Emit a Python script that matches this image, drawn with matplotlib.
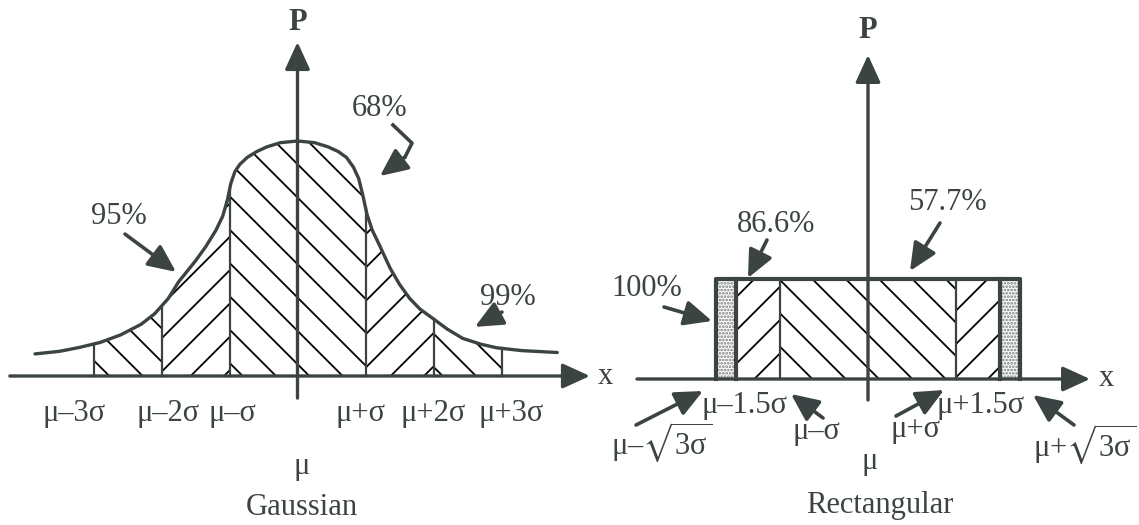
import numpy as np
import matplotlib
matplotlib.use('Agg')
import matplotlib.pyplot as plt

# Couleurs / style general (scan gris fonce)
ENCRE = '#3b4343'
plt.rcParams['font.family'] = ['Liberation Serif', 'DejaVu Serif']
plt.rcParams['mathtext.fontset'] = 'custom'
plt.rcParams['mathtext.rm'] = 'Liberation Serif'
plt.rcParams['mathtext.it'] = 'Liberation Serif'
plt.rcParams['mathtext.fallback'] = 'stix'
plt.rcParams['hatch.linewidth'] = 1.3
TAILLE = 22

# Courbe "gaussienne" (x en sigma, hauteur relative au pic)
gauss_x = np.array([-3.86, -3.5, -3.2, -2.9, -2.6, -2.3, -2.1, -1.9, -1.75, -1.5,
                    -1.35, -1.2, -1.1, -1.03, -0.98, -0.92, -0.85, -0.74, -0.6, -0.45,
                    -0.25, 0.0, 0.25, 0.45, 0.6, 0.72, 0.82, 0.9, 0.96, 1.02,
                    1.1, 1.2, 1.36, 1.5, 1.65, 1.8, 1.99, 2.2, 2.43, 2.7,
                    2.93, 3.3, 3.82])
gauss_h = np.array([0.094, 0.105, 0.122, 0.143, 0.175, 0.22, 0.265, 0.33, 0.40, 0.49,
                    0.55, 0.62, 0.68, 0.75, 0.82, 0.87, 0.90, 0.93, 0.955, 0.975,
                    0.993, 1.0, 0.993, 0.975, 0.955, 0.93, 0.89, 0.84, 0.77, 0.69,
                    0.62, 0.56, 0.46, 0.39, 0.33, 0.285, 0.245, 0.20, 0.16, 0.135,
                    0.12, 0.108, 0.10])

# Zones hachurees de la gaussienne
gauss_bornes = [-3, -2, -1, 1, 2, 3]
gauss_hachures = ['\\', '/', '\\', '/', '\\']
gauss_etiquettes = ['μ–3σ', 'μ–2σ', 'μ–σ', 'μ+σ', 'μ+2σ', 'μ+3σ']
gauss_pos_etiquettes = [-3.29, -1.90, -0.95, 0.92, 1.99, 3.14]

# Distribution rectangulaire (demi-largeur sqrt(3) sigma, hauteur 1)
rect_bornes = [-np.sqrt(3), -1.5, -1, 1, 1.5, np.sqrt(3)]
rect_hachures = ['.....', '/', '\\', '/', '.....']
rect_hauteur = 1.0

# Pourcentages
pct_gauss = ['95%', '68%', '99%']
pct_rect = ['100%', '86.6%', '57.7%']


def fleche(ax, debut, fin, lw=2.6, taille=24):
    # Fleche epaisse a tete pleine
    ax.annotate('', xy=fin, xytext=debut,
                arrowprops=dict(arrowstyle='-|>,head_length=0.7,head_width=0.32', lw=lw,
                                color=ENCRE, mutation_scale=taille, shrinkA=0, shrinkB=0))


def axes_fleches(ax, x0, x1, y0, y1):
    # Axes x et P avec fleches
    fleche(ax, (x0, 0), (x1, 0), lw=2.4, taille=24)
    fleche(ax, (0, y0), (0, y1), lw=2.4, taille=24)


def dessiner_gaussienne(ax):
    for (a, b), h in zip(zip(gauss_bornes[:-1], gauss_bornes[1:]), gauss_hachures):
        dedans = (gauss_x > a) & (gauss_x < b)
        xs = np.concatenate([[a], gauss_x[dedans], [b]])
        ys = np.interp(xs, gauss_x, gauss_h)
        ax.fill_between(xs, 0, ys, facecolor='white', edgecolor='black', hatch=h, linewidth=0)
    for b in gauss_bornes:
        ax.plot([b, b], [0, np.interp(b, gauss_x, gauss_h)], color=ENCRE, lw=1.6)
    ax.plot(gauss_x, gauss_h, color=ENCRE, lw=2.4, solid_capstyle='round', solid_joinstyle='round')

    axes_fleches(ax, -4.23, 4.30, -0.094, 1.421)
    ax.text(4.52, 0.0, 'x', fontsize=TAILLE, ha='center', va='center', color=ENCRE)
    ax.text(0, 1.506, 'P', fontsize=TAILLE, ha='center', va='center', color=ENCRE, fontweight='bold')

    for lab, x in zip(gauss_etiquettes, gauss_pos_etiquettes):
        ax.text(x, -0.16, lab, fontsize=TAILLE, ha='center', va='center', color=ENCRE)
    ax.text(0.06, -0.385, 'μ', fontsize=TAILLE, ha='center', va='center', color=ENCRE)
    ax.text(0.06, -0.56, 'Gaussian', fontsize=TAILLE, ha='center', va='center', color=ENCRE)

    # 95 %
    ax.text(-2.625, 0.677, pct_gauss[0], fontsize=TAILLE, ha='center', va='center', color=ENCRE)
    fleche(ax, (-2.537, 0.604), (-1.787, 0.443))
    # 68 % (fleche brisee)
    ax.text(1.213, 1.14, pct_gauss[1], fontsize=TAILLE, ha='center', va='center', color=ENCRE)
    ax.plot([1.404, 1.684, 1.581], [1.068, 0.991, 0.932], color=ENCRE, lw=2.6)
    fleche(ax, (1.581, 0.932), (1.213, 0.851))
    # 99 %
    ax.text(3.096, 0.336, pct_gauss[2], fontsize=TAILLE, ha='center', va='center', color=ENCRE)
    fleche(ax, (3.007, 0.272), (2.61, 0.209))


def dessiner_rectangulaire(ax):
    for (a, b), h in zip(zip(rect_bornes[:-1], rect_bornes[1:]), rect_hachures):
        couleur = '#7a7a7a' if '.' in h else 'black'
        ax.fill_between([a, b], 0, rect_hauteur, facecolor='white', edgecolor=couleur,
                        hatch=h, linewidth=0)
    for b in rect_bornes[1:-1]:
        lw = 3.0 if abs(b) > 1.2 else 1.6
        ax.plot([b, b], [0, rect_hauteur], color=ENCRE, lw=lw)
    a, b = rect_bornes[0], rect_bornes[-1]
    ax.plot([a, a, b, b], [0, rect_hauteur, rect_hauteur, 0], color=ENCRE, lw=3.0)

    axes_fleches(ax, -2.625, 2.523, -0.21, 3.24)
    ax.text(2.705, 0.0, 'x', fontsize=TAILLE, ha='center', va='center', color=ENCRE)
    ax.text(0, 3.49, 'P', fontsize=TAILLE, ha='center', va='center', color=ENCRE, fontweight='bold')

    # pourcentages
    ax.text(-2.511, 0.91, pct_rect[0], fontsize=TAILLE, ha='center', va='center', color=ENCRE)
    fleche(ax, (-2.318, 0.72), (-1.773, 0.58))
    ax.text(-1.045, 1.54, pct_rect[1], fontsize=TAILLE, ha='center', va='center', color=ENCRE)
    fleche(ax, (-1.148, 1.39), (-1.364, 1.01))
    ax.text(0.898, 1.76, pct_rect[2], fontsize=TAILLE, ha='center', va='center', color=ENCRE)
    fleche(ax, (0.818, 1.56), (0.477, 1.08))

    # etiquettes sous l'axe
    ax.text(-1.409, -0.27, 'μ–1.5σ', fontsize=TAILLE, ha='center', va='center', color=ENCRE)
    ax.text(1.284, -0.27, 'μ+1.5σ', fontsize=TAILLE, ha='center', va='center', color=ENCRE)
    ax.text(-0.591, -0.53, 'μ–σ', fontsize=TAILLE, ha='center', va='center', color=ENCRE)
    fleche(ax, (-0.511, -0.39), (-0.875, -0.15))
    ax.text(0.545, -0.51, 'μ+σ', fontsize=TAILLE, ha='center', va='center', color=ENCRE)
    fleche(ax, (0.318, -0.37), (0.864, -0.11))
    ax.text(0.023, -0.82, 'μ', fontsize=TAILLE, ha='center', va='center', color=ENCRE)
    ax.text(-2.341, -0.63, r'μ–$\sqrt{3σ}$', fontsize=TAILLE, ha='center', va='center', color=ENCRE)
    fleche(ax, (-2.636, -0.46), (-1.875, -0.12))
    ax.text(2.466, -0.65, r'μ+$\sqrt{3σ}$', fontsize=TAILLE, ha='center', va='center', color=ENCRE)
    fleche(ax, (2.341, -0.46), (1.875, -0.16))
    ax.text(0.136, -1.27, 'Rectangular', fontsize=TAILLE, ha='center', va='center', color=ENCRE)


fig = plt.figure(figsize=(11.39, 5.25), dpi=100)
ax_g = fig.add_axes([0, 0, 600 / 1139, 1])
ax_r = fig.add_axes([600 / 1139, 0, 539 / 1139, 1])
ax_g.set_xlim(-297.5 / 68, 302.5 / 68)
ax_g.set_ylim(-149 / 235, 376 / 235)
ax_r.set_xlim(-268 / 88, 271 / 88)
ax_r.set_ylim(-146 / 100, 379 / 100)
for ax in (ax_g, ax_r):
    ax.axis('off')

dessiner_gaussienne(ax_g)
dessiner_rectangulaire(ax_r)

fig.savefig('out.png', dpi=100)
